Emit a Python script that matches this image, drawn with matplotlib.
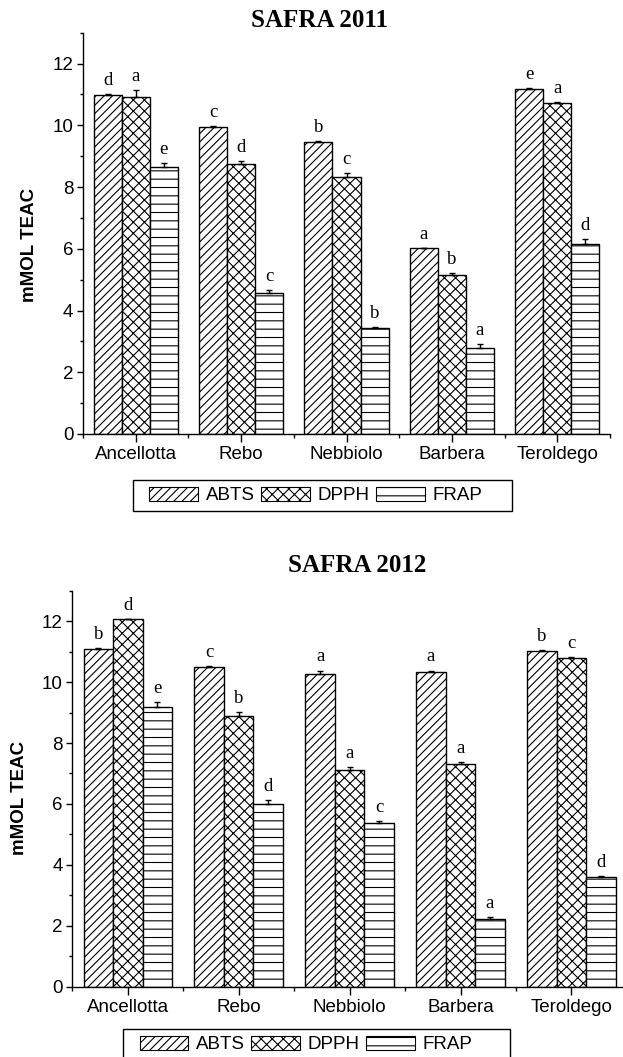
import matplotlib
matplotlib.use('Agg')
import matplotlib.pyplot as plt
from matplotlib.patches import Patch, Rectangle
from matplotlib.ticker import MultipleLocator
import numpy as np

# dados
cultivares = ['Ancellotta', 'Rebo', 'Nebbiolo', 'Barbera', 'Teroldego']
metodos = ['ABTS', 'DPPH', 'FRAP']

abts_2011 = [10.97, 9.95, 9.45, 6.01, 11.19]
dpph_2011 = [10.93, 8.75, 8.32, 5.15, 10.73]
frap_2011 = [8.64, 4.56, 3.43, 2.77, 6.14]
abts_2011_err = [0.03, 0.03, 0.03, 0.03, 0.01]
dpph_2011_err = [0.20, 0.08, 0.14, 0.06, 0.03]
frap_2011_err = [0.13, 0.09, 0.03, 0.13, 0.17]
abts_2011_let = ['d', 'c', 'b', 'a', 'e']
dpph_2011_let = ['a', 'd', 'c', 'b', 'a']
frap_2011_let = ['e', 'c', 'b', 'a', 'd']

abts_2012 = [11.10, 10.49, 10.28, 10.33, 11.03]
dpph_2012 = [12.06, 8.90, 7.13, 7.31, 10.80]
frap_2012 = [9.18, 6.01, 5.38, 2.21, 3.60]
abts_2012_err = [0.03, 0.05, 0.10, 0.05, 0.02]
dpph_2012_err = [0.01, 0.13, 0.07, 0.07, 0.02]
frap_2012_err = [0.15, 0.13, 0.07, 0.09, 0.04]
abts_2012_let = ['b', 'c', 'a', 'a', 'b']
dpph_2012_let = ['d', 'b', 'a', 'a', 'c']
frap_2012_let = ['e', 'd', 'c', 'a', 'd']

hatches = ['////', 'xxx', '--']

plt.rcParams['hatch.linewidth'] = 0.8
sans = 'Liberation Sans'
serif = 'Liberation Serif'

W, H = 623, 1057
fig = plt.figure(figsize=(W / 100, H / 100), dpi=100)


def px(x0, y0, x1, y1):
    # caixa em pixels -> fração da figura [left, bottom, width, height]
    return [x0 / W, 1 - y1 / H, (x1 - x0) / W, (y1 - y0) / H]


def painel(ax, valores, erros, letras, xlim):
    x = np.arange(len(cultivares))
    w = 0.266
    for k, (vals, errs, lets) in enumerate(zip(valores, erros, letras)):
        pos = x + (k - 1) * w
        ax.bar(pos, vals, width=w, color='white', edgecolor='black',
               linewidth=1.0, hatch=hatches[k], zorder=2)
        ax.errorbar(pos, vals, yerr=[np.zeros(len(vals)), errs], fmt='none',
                    ecolor='black', elinewidth=1.0, capsize=2.5, capthick=1.0,
                    zorder=3)
        for xi, v, e, l in zip(pos, vals, errs, lets):
            ax.annotate(l, (xi, v + e), xytext=(0, 6.5), textcoords='offset points',
                        ha='center', va='baseline', fontsize=13.5, family=serif)
    ax.set_ylim(0, 13)
    ax.set_xlim(*xlim)
    ax.yaxis.set_major_locator(MultipleLocator(2))
    ax.yaxis.set_minor_locator(MultipleLocator(1))
    ax.set_xticks(x)
    ax.set_xticks(np.arange(-0.5, 5.0, 1.0), minor=True)
    ax.set_xticklabels(cultivares, fontsize=13.5, family=sans)
    for lab in ax.get_yticklabels():
        lab.set_fontsize(13.5)
        lab.set_family(sans)
    ax.tick_params(axis='y', which='major', direction='out', length=4, width=1, pad=3)
    ax.tick_params(axis='y', which='minor', direction='out', length=2.4, width=1)
    ax.tick_params(axis='x', which='major', direction='out', length=5.5, width=1, pad=3)
    ax.tick_params(axis='x', which='minor', direction='out', length=3, width=1)
    for s in ['top', 'right']:
        ax.spines[s].set_visible(False)
    for s in ['left', 'bottom']:
        ax.spines[s].set_linewidth(1.0)
    ax.set_facecolor('none')


def legenda(x_patch, y_centro, caixa):
    handles = [Patch(facecolor='white', edgecolor='black', hatch=h, linewidth=0.8)
               for h in hatches]
    fig.legend(handles, metodos, loc='center left',
               bbox_to_anchor=(x_patch / W, 1 - y_centro / H),
               bbox_transform=fig.transFigure, frameon=False, ncol=3,
               borderpad=0, borderaxespad=0, handlelength=2.6, handleheight=0.8,
               handletextpad=0.4, columnspacing=0.35,
               prop={'family': sans, 'size': 13.5})
    x0, y0, x1, y1 = caixa
    fig.patches.append(Rectangle((x0 / W, 1 - y1 / H), (x1 - x0) / W, (y1 - y0) / H,
                                 transform=fig.transFigure, facecolor='none',
                                 edgecolor='black', linewidth=1.0))


# SAFRA 2011
ax1 = fig.add_axes(px(83, 32.7, 610, 434))
painel(ax1, [abts_2011, dpph_2011, frap_2011],
       [abts_2011_err, dpph_2011_err, frap_2011_err],
       [abts_2011_let, dpph_2011_let, frap_2011_let], (-0.5, 4.5))
fig.text(320 / W, 1 - 26.7 / H, 'SAFRA 2011', ha='center', va='baseline',
         fontsize=18, fontweight='bold', family=serif)
fig.text(30 / W, 1 - 245 / H, 'mMOL TEAC', rotation=90, ha='center', va='center',
         fontsize=13.5, fontweight='bold', family=sans)
legenda(149.3, 495.5, (132.7, 480, 511.7, 510.7))

# SAFRA 2012
ax2 = fig.add_axes(px(72.3, 590.7, 628, 986.7))
painel(ax2, [abts_2012, dpph_2012, frap_2012],
       [abts_2012_err, dpph_2012_err, frap_2012_err],
       [abts_2012_let, dpph_2012_let, frap_2012_let], (-0.49, 4.51))
fig.text(357 / W, 1 - 572 / H, 'SAFRA 2012', ha='center', va='baseline',
         fontsize=18, fontweight='bold', family=serif)
fig.text(19.5 / W, 1 - 798 / H, 'mMOL TEAC', rotation=90, ha='center', va='center',
         fontsize=13.5, fontweight='bold', family=sans)
legenda(139.5, 1044.5, (123, 1029.3, 510, 1060))

fig.savefig('out.png', dpi=100, facecolor='white')
